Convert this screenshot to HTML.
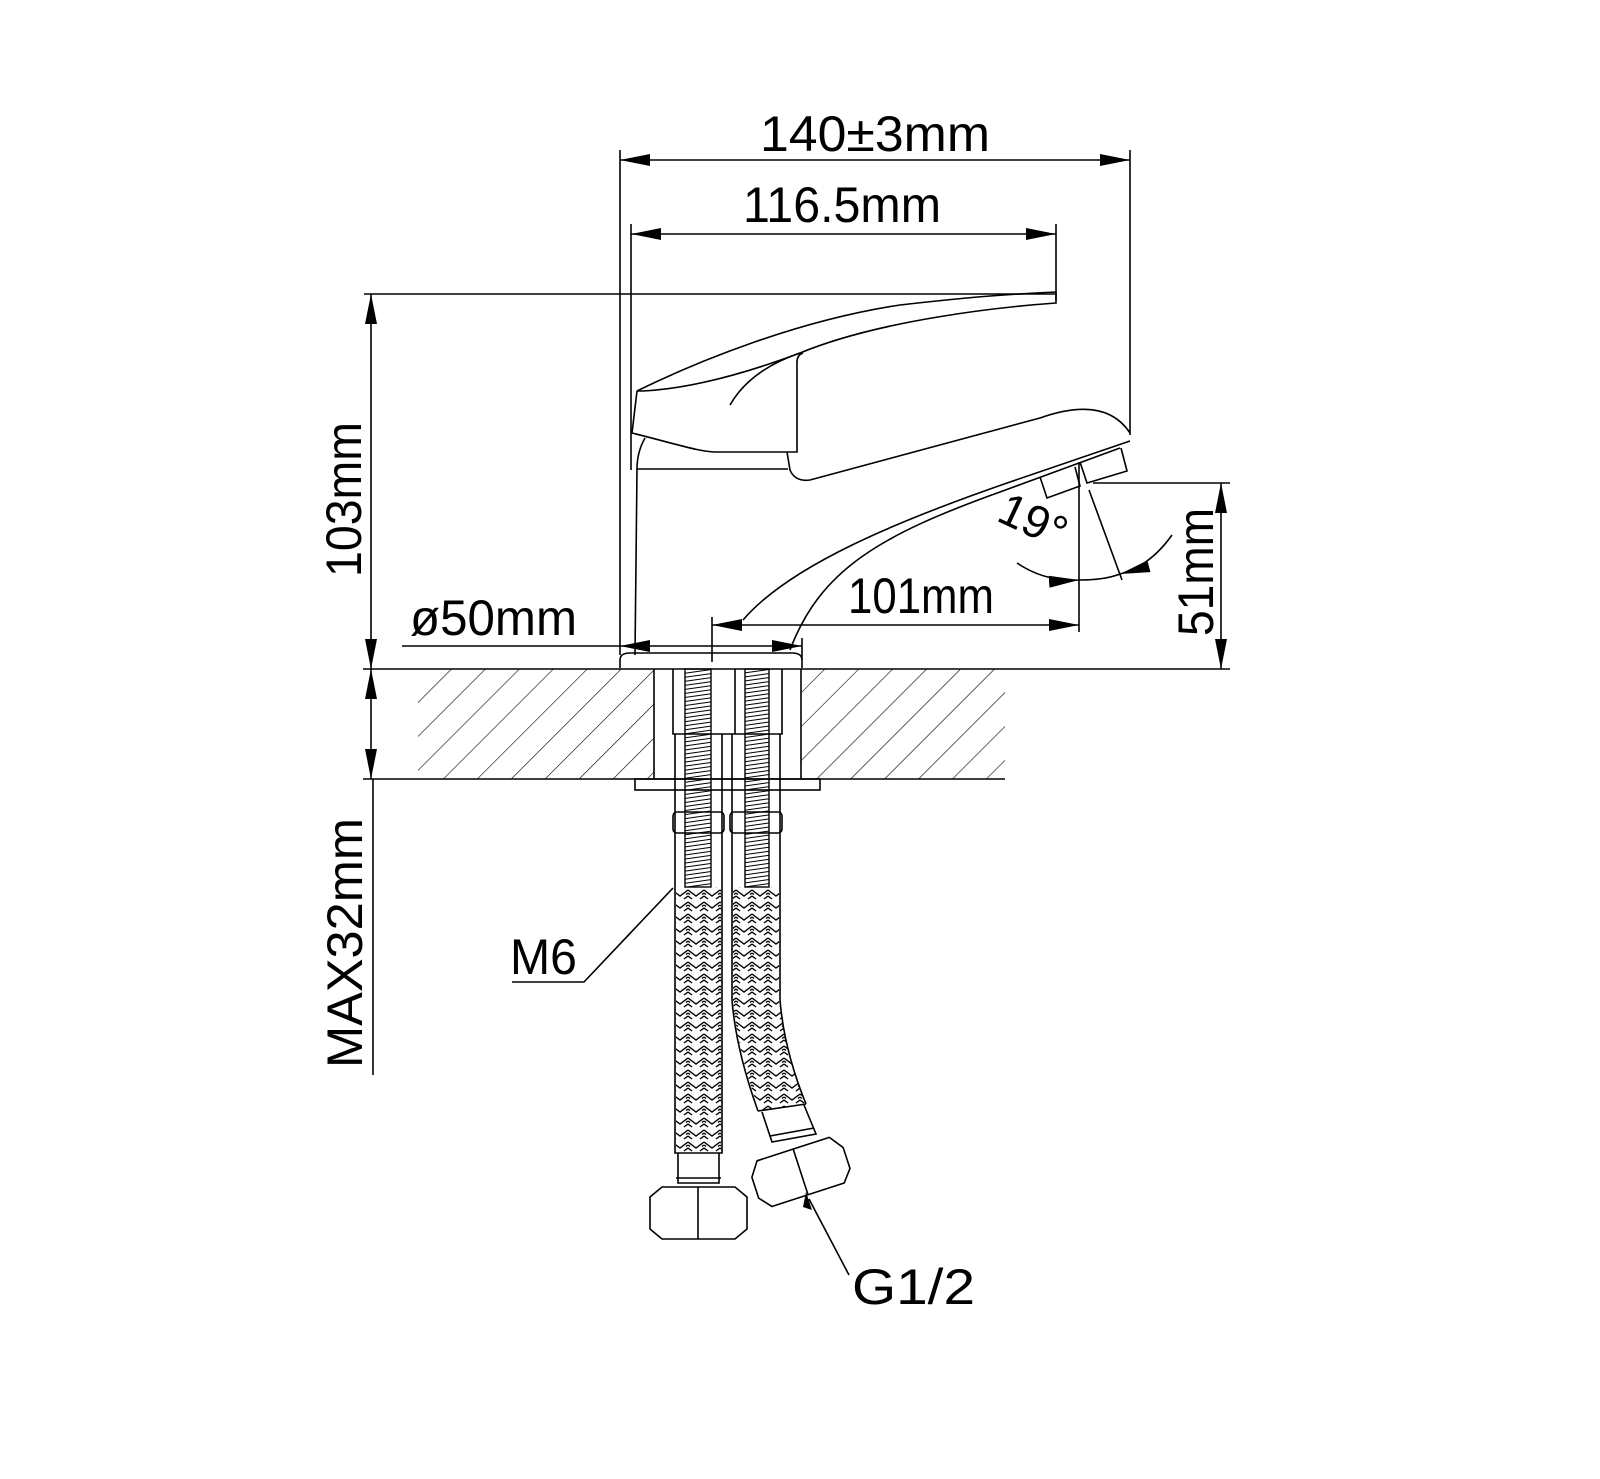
<!DOCTYPE html>
<html><head><meta charset="utf-8"><style>html,body{margin:0;padding:0;background:#fff}svg{display:block}</style></head>
<body>
<svg xmlns="http://www.w3.org/2000/svg" width="1600" height="1479" viewBox="0 0 1600 1479">
<defs>
<marker id="a" viewBox="0 0 30 12" refX="30" refY="6" markerWidth="30" markerHeight="12" markerUnits="userSpaceOnUse" orient="auto-start-reverse"><path d="M0,0 L30,6 L0,12 Z" fill="#000"/></marker>
<pattern id="hatch" width="24" height="24" patternUnits="userSpaceOnUse" patternTransform="rotate(45)"><line x1="0" y1="0" x2="0" y2="24" stroke="#000" stroke-width="1.2"/></pattern>
<pattern id="thr" width="6" height="4" patternUnits="userSpaceOnUse" patternTransform="rotate(-8)"><line x1="0" y1="2" x2="6" y2="2" stroke="#000" stroke-width="1"/></pattern>
<pattern id="braid" width="16" height="12" patternUnits="userSpaceOnUse"><path d="M0,2 L8,8 L16,2 M0,8 L4,11 M12,11 L16,8 M0,5 L2,6.5 M14,6.5 L16,5" stroke="#000" stroke-width="1.4" fill="none"/></pattern>
</defs>
<g fill="none" stroke="#000" stroke-width="1.6">
<line x1="620" y1="150" x2="620" y2="655"/>
<line x1="631" y1="224" x2="631" y2="470"/>
<line x1="1130" y1="150" x2="1130" y2="435"/>
<line x1="1056" y1="224" x2="1056" y2="300"/>
<line x1="364" y1="294" x2="1056" y2="294"/>
<line x1="1093" y1="483" x2="1230" y2="483"/>
<line x1="1079" y1="462" x2="1079" y2="632"/>
<line x1="712" y1="617" x2="712" y2="662"/>
<line x1="802" y1="638" x2="802" y2="660"/>
<line x1="620" y1="160" x2="1130" y2="160" marker-start="url(#a)" marker-end="url(#a)"/>
<line x1="631" y1="234" x2="1056" y2="234" marker-start="url(#a)" marker-end="url(#a)"/>
<line x1="371" y1="294" x2="371" y2="669" marker-start="url(#a)" marker-end="url(#a)"/>
<line x1="371" y1="669" x2="371" y2="779" marker-start="url(#a)" marker-end="url(#a)"/>
<line x1="373" y1="779" x2="373" y2="1075"/>
<line x1="1221" y1="483" x2="1221" y2="669" marker-start="url(#a)" marker-end="url(#a)"/>
<line x1="712" y1="625" x2="1079" y2="625" marker-start="url(#a)" marker-end="url(#a)"/>
<line x1="402" y1="646" x2="620" y2="646"/>
<line x1="620" y1="646" x2="802" y2="646" marker-start="url(#a)" marker-end="url(#a)"/>
<line x1="1089" y1="490" x2="1122" y2="580"/>
<path d="M1017,563 Q1045,582 1079,580" marker-end="url(#a)"/>
<path d="M1172,535 Q1150,566 1120,574" marker-end="url(#a)"/>
<path d="M1079,580 Q1105,580 1120,574"/>
<line x1="363" y1="669" x2="1230" y2="669"/>
<line x1="363" y1="779" x2="1005" y2="779"/>
</g>
<rect x="418" y="669" width="236" height="110" fill="url(#hatch)"/>
<rect x="801" y="669" width="204" height="110" fill="url(#hatch)"/>
<g fill="none" stroke="#000" stroke-width="1.6">
<line x1="654" y1="669" x2="654" y2="779"/>
<line x1="801" y1="669" x2="801" y2="779"/>
<path d="M637,391 C700,360 800,320 900,305 C970,297 1010,294 1056,292 L1056,303 C1000,307 880,320 800,353 C760,368 700,388 643,391 Z"/>
<path d="M637,391 L632,433 C680,445 700,452 717,452 L797,452 L797,362 Q797,355 803,353"/>
<path d="M730,405 Q750,370 800,353"/>
<path d="M645,438 Q637,452 637,469 L635,655"/>
<line x1="637" y1="469" x2="788" y2="469"/>
<path d="M787,452 L790,470 Q795,482 810,480 L1040,418 Q1105,395 1130,433"/>
<path d="M1130,441 L1010,482 C900,520 790,565 743,620"/>
<path d="M1120,448 L1000,492 C880,535 820,570 790,650"/>
<path d="M1040,477 L1047,498 L1080,486 L1075,467"/>
<path d="M1080,462 L1087,483 L1127,471 L1121,448"/>
<path d="M620,668 L620,660 Q620,653 630,653 L792,653 Q802,653 802,660 L802,668"/>
<path d="M673,669 L673,734 L782,734 L782,669"/>
<line x1="735" y1="669" x2="735" y2="734"/>
<rect x="635" y="779" width="185" height="11"/>
</g>
<rect x="685" y="669" width="26" height="218" fill="url(#thr)" stroke="#000" stroke-width="1.4"/>
<rect x="745" y="669" width="24" height="218" fill="url(#thr)" stroke="#000" stroke-width="1.4"/>
<rect x="676" y="887" width="45" height="265" fill="url(#braid)"/>
<path d="M733,887 L733,1000 Q737,1050 759,1110 L805,1104 Q785,1050 779,1000 L779,887 Z" fill="url(#braid)"/>
<g fill="none" stroke="#000" stroke-width="1.6">
<path d="M675,734 L675,1153 L722,1153 L722,734"/>
<path d="M732,734 L732,1000 Q736,1050 758,1111 M780,734 L780,1000 Q784,1050 806,1104"/>
<line x1="758" y1="1111" x2="806" y2="1104"/>
<rect x="673" y="812" width="51" height="21" rx="4"/>
<rect x="730" y="812" width="52" height="21" rx="4"/>
<path d="M678,1153 L678,1183 L719,1183 L719,1153"/>
<line x1="676" y1="1178" x2="721" y2="1178"/>
<path d="M650,1197 L662,1187 L735,1187 L747,1197 L747,1229 L735,1239 L662,1239 L650,1229 Z"/>
<line x1="698" y1="1187" x2="698" y2="1239"/>
<path d="M762,1112 L772,1142 L816,1134 L804,1105"/>
<line x1="770" y1="1136" x2="814" y2="1128"/>
<g transform="translate(800,1170) rotate(-18)">
<path d="M-48,-8 L-38,-22 L38,-22 L48,-8 L48,14 L38,26 L-38,26 L-48,14 Z"/>
<line x1="0" y1="-22" x2="0" y2="26"/>
</g>
<path d="M673,888 L584,982 L512,982"/>
<path d="M809,1199 L849,1275"/>
</g>
<path d="M806,1192 L812,1210 L803,1207 Z" fill="#000"/>
<g font-family="Liberation Sans, sans-serif" fill="#000" font-size="50">
<text x="760" y="151" textLength="230" lengthAdjust="spacingAndGlyphs">140±3mm</text>
<text x="743" y="222" textLength="198" lengthAdjust="spacingAndGlyphs">116.5mm</text>
<text x="848" y="613" textLength="146" lengthAdjust="spacingAndGlyphs">101mm</text>
<text x="410" y="635" textLength="167" lengthAdjust="spacingAndGlyphs">ø50mm</text>
<text x="510" y="974" textLength="67" lengthAdjust="spacingAndGlyphs">M6</text>
<text x="852" y="1304" textLength="123" lengthAdjust="spacingAndGlyphs">G1/2</text>
<text transform="translate(361,577) rotate(-90)" textLength="155" lengthAdjust="spacingAndGlyphs">103mm</text>
<text transform="translate(362,1068) rotate(-90)" textLength="250" lengthAdjust="spacingAndGlyphs">MAX32mm</text>
<text transform="translate(1213,636) rotate(-90)" textLength="128" lengthAdjust="spacingAndGlyphs">51mm</text>
<text transform="translate(995,520) rotate(25)" font-size="46">19°</text>
</g>
</svg>
</body></html>
